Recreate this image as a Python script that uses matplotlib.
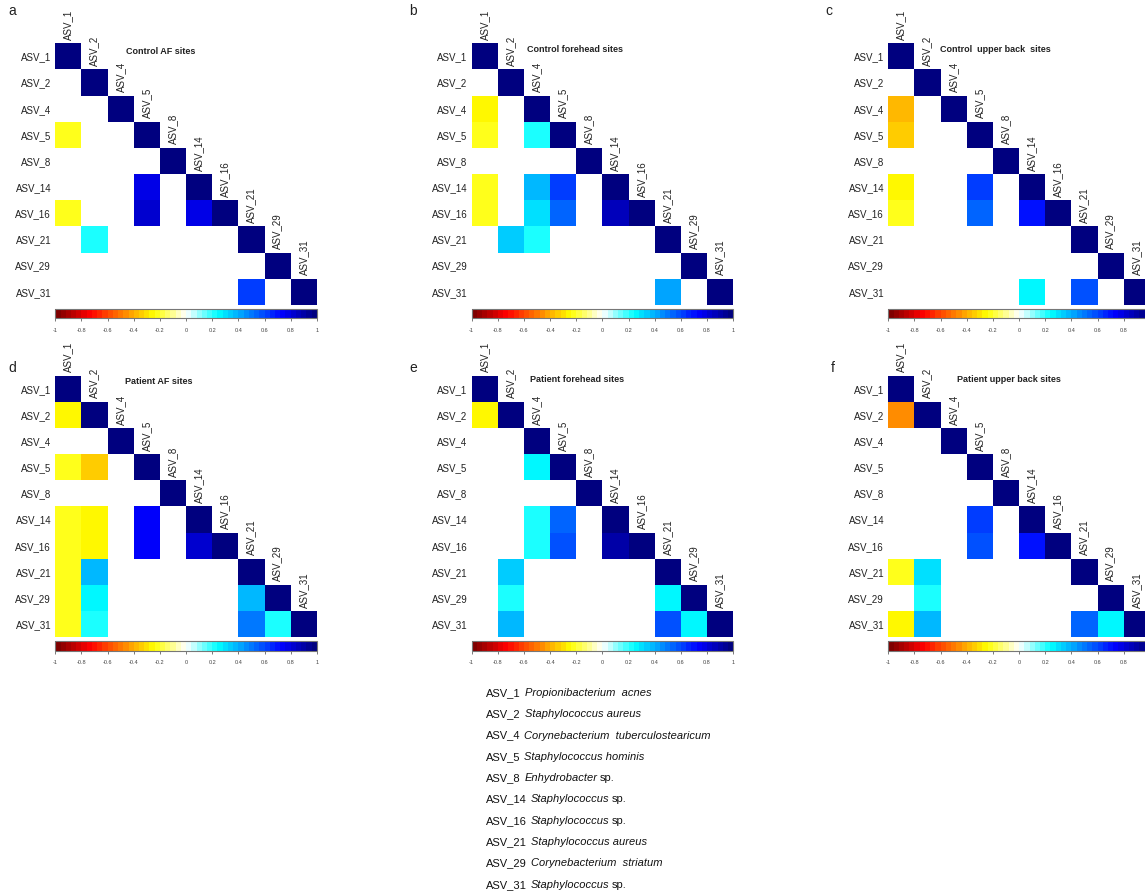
import numpy as np
import matplotlib.pyplot as plt
from matplotlib.colors import LinearSegmentedColormap, ListedColormap, Normalize
from matplotlib.cm import ScalarMappable

plt.rcParams["font.family"] = ["Liberation Sans", "DejaVu Sans"]

asv = ["ASV_1", "ASV_2", "ASV_4", "ASV_5", "ASV_8",
       "ASV_14", "ASV_16", "ASV_21", "ASV_29", "ASV_31"]

# Spearman correlations, lower triangle row by row (0 = not significant, left blank)
control_af = [
    [1],
    [0, 1],
    [0, 0, 1],
    [-0.22, 0, 0, 1],
    [0, 0, 0, 0, 1],
    [0, 0, 0, 0.77, 0, 1],
    [-0.22, 0, 0, 0.82, 0, 0.78, 1],
    [0, 0.23, 0, 0, 0, 0, 0, 1],
    [0, 0, 0, 0, 0, 0, 0, 0, 1],
    [0, 0, 0, 0, 0, 0, 0, 0.62, 0, 1],
]
control_forehead = [
    [1],
    [0, 1],
    [-0.27, 0, 1],
    [-0.23, 0, 0.21, 1],
    [0, 0, 0, 0, 1],
    [-0.22, 0, 0.36, 0.6, 0, 1],
    [-0.22, 0, 0.31, 0.54, 0, 0.85, 1],
    [0, 0.32, 0.22, 0, 0, 0, 0, 1],
    [0, 0, 0, 0, 0, 0, 0, 0, 1],
    [0, 0, 0, 0, 0, 0, 0, 0.4, 0, 1],
]
control_back = [
    [1],
    [0, 1],
    [-0.40, 0, 1],
    [-0.33, 0, 0, 1],
    [0, 0, 0, 0, 1],
    [-0.27, 0, 0, 0.6, 0, 1],
    [-0.23, 0, 0, 0.55, 0, 0.7, 1],
    [0, 0, 0, 0, 0, 0, 0, 1],
    [0, 0, 0, 0, 0, 0, 0, 0, 1],
    [0, 0, 0, 0, 0, 0.25, 0, 0.58, 0, 1],
]
patient_af = [
    [1],
    [-0.25, 1],
    [0, 0, 1],
    [-0.23, -0.35, 0, 1],
    [0, 0, 0, 0, 1],
    [-0.22, -0.26, 0, 0.75, 0, 1],
    [-0.22, -0.26, 0, 0.73, 0, 0.82, 1],
    [-0.22, 0.37, 0, 0, 0, 0, 0, 1],
    [-0.22, 0.27, 0, 0, 0, 0, 0, 0.36, 1],
    [-0.22, 0.23, 0, 0, 0, 0, 0, 0.5, 0.22, 1],
]
patient_forehead = [
    [1],
    [-0.27, 1],
    [0, 0, 1],
    [0, 0, 0.24, 1],
    [0, 0, 0, 0, 1],
    [0, 0, 0.22, 0.54, 0, 1],
    [0, 0, 0.23, 0.56, 0, 0.88, 1],
    [0, 0.32, 0, 0, 0, 0, 0, 1],
    [0, 0.22, 0, 0, 0, 0, 0, 0.24, 1],
    [0, 0.36, 0, 0, 0, 0, 0, 0.58, 0.26, 1],
]
patient_back = [
    [1],
    [-0.47, 1],
    [0, 0, 1],
    [0, 0, 0, 1],
    [0, 0, 0, 0, 1],
    [0, 0, 0, 0.6, 0, 1],
    [0, 0, 0, 0.56, 0, 0.68, 1],
    [-0.21, 0.3, 0, 0, 0, 0, 0, 1],
    [0, 0.22, 0, 0, 0, 0, 0, 0, 1],
    [-0.27, 0.37, 0, 0, 0, 0, 0, 0.55, 0.25, 1],
]

titles = ["Control AF sites", "Control forehead sites", "Control  upper back  sites",
          "Patient AF sites", "Patient forehead sites", "Patient upper back sites"]
letters = ["a", "b", "c", "d", "e", "f"]

taxa_ids = asv
taxa_names = ["Propionibacterium  acnes", "Staphylococcus aureus",
              "Corynebacterium  tuberculostearicum", "Staphylococcus hominis",
              "Enhydrobacter", "Staphylococcus", "Staphylococcus",
              "Staphylococcus aureus", "Corynebacterium  striatum", "Staphylococcus"]
taxa_suffix = ["", "", "", "", "sp.", "sp.", "sp.", "", "", "sp."]

# corrplot-style blue/red ramp, binned into 50 steps
ramp = LinearSegmentedColormap.from_list(
    "col1", ["#7F0000", "red", "#FF7F00", "yellow", "white",
             "cyan", "#007FFF", "blue", "#00007F"])
cmap = ListedColormap(ramp(np.linspace(0, 1, 50)))
cmap.set_bad("none")
norm = Normalize(-1, 1)


def to_matrix(rows):
    m = np.full((10, 10), np.nan)
    for i, r in enumerate(rows):
        for j, v in enumerate(r):
            if v != 0:
                m[i, j] = v
    return np.ma.masked_invalid(m)


W, H = 1145, 894
fig = plt.figure(figsize=(W / 100, H / 100), dpi=100)


def frac(x, y, w, h):
    return [x / W, 1 - (y + h) / H, w / W, h / H]


panels = [control_af, control_forehead, control_back,
          patient_af, patient_forehead, patient_back]
grid_left = [55.3, 471.7, 888.3]
grid_top = [43.3, 375.7]
cell = 26.15
# title anchor (x px, y px) and panel letter position per panel
title_pos = [(126, 52), (527, 49), (940, 49), (125, 381.5), (530, 380), (957, 379)]
letter_pos = [(12, 11), (413, 11), (829, 11), (12, 368), (413, 368), (833, 368)]

for k, data in enumerate(panels):
    gx = grid_left[k % 3]
    gy = grid_top[k // 3]
    ax = fig.add_axes(frac(gx, gy, cell * 10, cell * 10))
    ax.pcolormesh(np.arange(11), np.arange(11), to_matrix(data),
                  cmap=cmap, norm=norm)
    ax.set_xlim(0, 10)
    ax.set_ylim(10, 0)
    for s in ax.spines.values():
        s.set_visible(False)
    ax.set_xticks([])
    ax.set_yticks(np.arange(10) + 0.5, asv)
    ax.tick_params(axis="y", length=0, pad=3, labelsize=7, labelcolor="#222222")
    for j, name in enumerate(asv):
        ax.annotate(name, xy=(j + 0.5, j), xytext=(0, 2.5), textcoords="offset points",
                    rotation=90, ha="center", va="bottom", fontsize=7,
                    color="#222222", annotation_clip=False)

    tx, ty = title_pos[k]
    fig.text(tx / W, 1 - ty / H, titles[k], fontsize=6.5, fontweight="bold",
             ha="left", va="center", color="#222222")
    lx, ly = letter_pos[k]
    fig.text(lx / W, 1 - ly / H, letters[k], fontsize=10,
             ha="center", va="center", color="#222222")

    # colour key under each matrix; labels past the page edge are dropped
    cax = fig.add_axes(frac(gx, gy + cell * 10 + 3.8, cell * 10, 9.5))
    cb = fig.colorbar(ScalarMappable(norm=norm, cmap=cmap), cax=cax,
                      orientation="horizontal")
    ticks = np.round(np.linspace(-1, 1, 11), 1)
    tick_px = gx + (ticks + 1) / 2 * cell * 10
    cb.set_ticks(ticks, labels=[f"{t:g}" if p < W - 8 else ""
                                for t, p in zip(ticks, tick_px)])
    cb.outline.set_edgecolor("#777777")
    cb.outline.set_linewidth(0.8)
    cax.tick_params(labelsize=4, length=2, width=0.5, pad=5, colors="#444444")

# species key: plain ASV id, italic genus/species, plain "sp."
lax = fig.add_axes([0, 0, 1, 1])
lax.set_xlim(0, W)
lax.set_ylim(H, 0)
lax.axis("off")
renderer = fig.canvas.get_renderer()
for i, sid in enumerate(taxa_ids):
    y = 696 + i * 21.3
    x = 486
    t = lax.text(x, y, sid, fontsize=8, ha="left", va="baseline", color="#111111")
    x += t.get_window_extent(renderer).width + 4
    s = lax.text(x, y, taxa_names[i], fontsize=8, style="italic",
                 ha="left", va="baseline", color="#111111")
    x += s.get_window_extent(renderer).width + 2.5
    if taxa_suffix[i]:
        lax.text(x, y, taxa_suffix[i], fontsize=8,
                 ha="left", va="baseline", color="#111111")

fig.savefig("out.png", dpi=100)
